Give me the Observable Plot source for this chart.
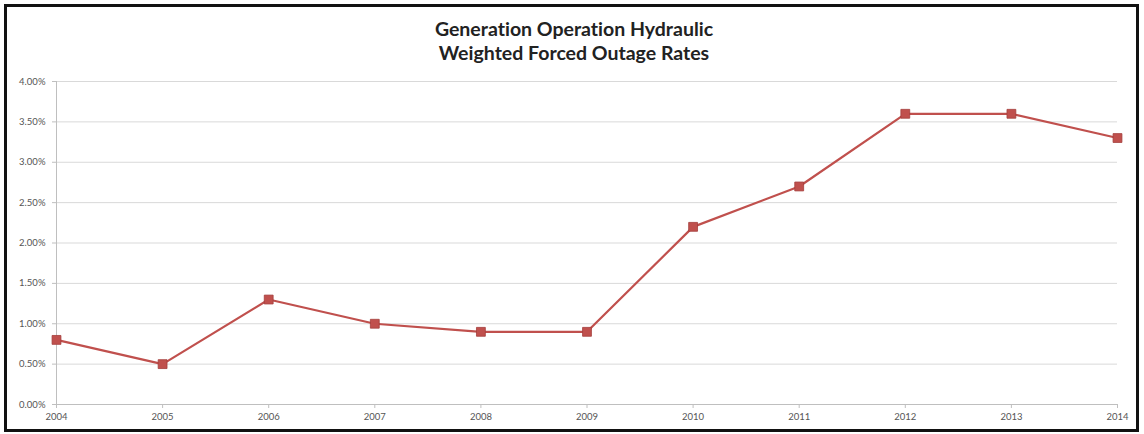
<!DOCTYPE html>
<html>
<head>
<meta charset="utf-8">
<script src="https://cdn.jsdelivr.net/npm/d3@7"></script>
<script src="https://cdn.jsdelivr.net/npm/@observablehq/plot@0.6"></script>
<style>
  html, body { margin: 0; padding: 0; background: #fff; }
  #wrap { position: relative; width: 1144px; height: 434px; overflow: hidden; }
  #border { position: absolute; left: 4px; top: 4px; width: 1135px; height: 428px; box-sizing: border-box; border: 3px solid #111; pointer-events: none; }
  #title { position: absolute; left: 0; width: 1148px; top: 17px; text-align: center; font-family: Lato, "Open Sans", sans-serif; font-weight: bold; font-size: 19.5px; line-height: 24px; color: #222; font-variant-ligatures: none; font-feature-settings: "liga" 0; }
  #chart { position: absolute; left: 0; top: 0; }
</style>
</head>
<body>
<div id="wrap">
  <div id="chart"></div>
  <div id="title">Generation Operation Hydraulic<br>Weighted Forced Outage Rates</div>
  <div id="border"></div>
</div>
<script>
const years = [2004, 2005, 2006, 2007, 2008, 2009, 2010, 2011, 2012, 2013, 2014];
const rates = [0.008, 0.005, 0.013, 0.010, 0.009, 0.009, 0.022, 0.027, 0.036, 0.036, 0.033];
const yTicks = [0, 0.005, 0.01, 0.015, 0.02, 0.025, 0.03, 0.035, 0.04];

const data = years.map((y, i) => ({year: y, rate: rates[i]}));
const lineColor = "#C0504D";

const chart = Plot.plot({
  width: 1144,
  height: 434,
  marginLeft: 56,
  marginRight: 27,
  marginTop: 81,
  marginBottom: 30,
  style: { fontFamily: "Lato, 'Liberation Sans', sans-serif", fontSize: "9.5px", color: "#555", background: "transparent" },
  x: { type: "linear", domain: [2004, 2014] },
  y: { domain: [0, 0.04] },
  marks: [
    Plot.ruleY(yTicks.filter(d => d > 0), { stroke: "#d9d9d9", strokeWidth: 1, strokeOpacity: 1 }),
    Plot.ruleX([2004], { stroke: "#bfbfbf", strokeWidth: 1 }),
    Plot.ruleY([0], { stroke: "#bfbfbf", strokeWidth: 1 }),
    Plot.axisY({ ticks: yTicks, tickFormat: d3.format(".2%"), tickSize: 4, tickPadding: 7, stroke: "#bfbfbf", label: null, fill: "#555" }),
    Plot.axisX({ ticks: years, tickFormat: d => String(d), tickSize: 4, tickPadding: 5, stroke: "#bfbfbf", label: null, fill: "#555" }),
    Plot.line(data, { x: "year", y: "rate", stroke: lineColor, strokeWidth: 2.2 }),
    Plot.dot(data, { x: "year", y: "rate", symbol: "square", r: 5, fill: lineColor, stroke: "#a33e3b", strokeWidth: 0.8 })
  ]
});
document.getElementById("chart").appendChild(chart);
</script>
</body>
</html>
